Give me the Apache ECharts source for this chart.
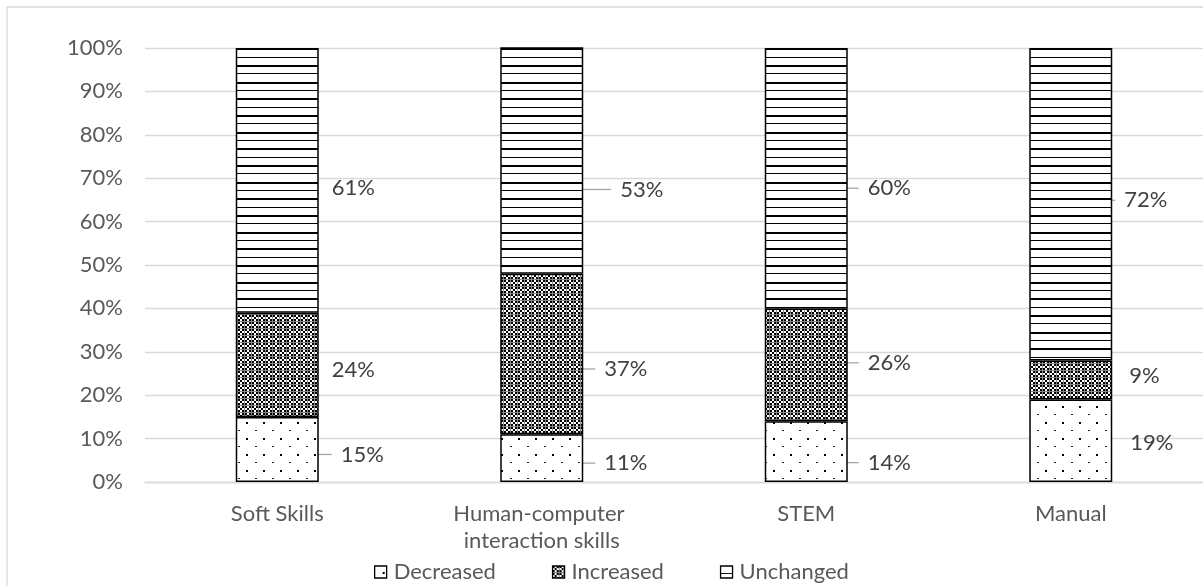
<!DOCTYPE html>
<html>
<head>
<meta charset="utf-8">
<script src="https://cdn.jsdelivr.net/npm/echarts@6/dist/echarts.min.js"></script>
<style>
  html, body { margin: 0; padding: 0; background: #fff; }
  #chart { width: 1203px; height: 586px; }
</style>
</head>
<body>
<div id="chart"></div>
<script>
// Skill groups on the category axis
const categories = ['Soft Skills', 'Human-computer interaction skills', 'STEM', 'Manual'];
// Share of responses (%) in each group
const decreased = [15, 11, 14, 19];
const increased = [24, 37, 26, 9];
const unchanged = [61, 53, 60, 72];
const seriesNames = ['Decreased', 'Increased', 'Unchanged'];

// Label nudges [dx, dy] from the default right-hand spot, per series and category
const labelNudge = [
  [[8, 5], [7, 5], [6, 11], [4, 2]],
  [[-1, 5], [7, 15], [6, -2], [3, -4]],
  [[-1, 8], [23, 29], [6, 10], [-2, -4]]
];
// Which labels get a leader line
const leaderShown = [
  [true, true, true, false],
  [false, true, true, false],
  [false, true, true, true]
];

const FONT = 'Lato';
const FONT_SIZE = 22;
const AXIS_TEXT = '#595959';
const LABEL_TEXT = '#404040';
const GRID_GRAY = '#d9d9d9';

// Small repeating tiles used as monochrome fill patterns
function tile(w, h, paint) {
  const c = document.createElement('canvas');
  c.width = w; c.height = h;
  const g = c.getContext('2d');
  g.fillStyle = '#fff';
  g.fillRect(0, 0, w, h);
  paint(g);
  return { image: c, repeat: 'repeat' };
}

// Sparse staggered dots
const dotFill = tile(17, 16, g => {
  g.fillStyle = '#000';
  g.fillRect(8, 6, 2, 2);
  g.fillStyle = '#222';
  g.fillRect(0, 14, 2, 1);
});

// Fine checkerboard with grey seams
const checkFill = tile(7, 7, g => {
  for (let y = 0; y < 7; y++) {
    for (let x = 0; x < 7; x++) {
      if (x === 6 || y === 6) {
        g.fillStyle = '#8a8a8a';
        g.fillRect(x, y, 1, 1);
      } else if (((x >> 1) + (y >> 1)) % 2 === 0) {
        g.fillStyle = '#000';
        g.fillRect(x, y, 1, 1);
      }
    }
  }
});

// Horizontal rules, alternating thin and thick
const lineFill = tile(4, 50, g => {
  g.fillStyle = '#000';
  [7, 23, 40].forEach(y => g.fillRect(0, y, 4, 1));
  [15, 32, 48].forEach(y => g.fillRect(0, y, 4, 2));
});

const fills = [dotFill, checkFill, lineFill];
const values = [decreased, increased, unchanged];

const series = seriesNames.map((name, si) => ({
  name: name,
  type: 'bar',
  stack: 'share',
  barWidth: 83,
  clip: true,
  itemStyle: {
    color: fills[si],
    borderColor: '#000',
    borderWidth: 1.5
  },
  label: {
    show: true,
    position: 'right',
    distance: 5,
    formatter: '{c}%',
    color: LABEL_TEXT,
    fontFamily: FONT,
    fontSize: FONT_SIZE,
    padding: [0, 0, 0, 9],
    backgroundColor: 'rgba(255,255,255,0)'
  },
  labelLine: {
    show: false,
    length2: 0,
    lineStyle: { color: '#a6a6a6', width: 1.3 }
  },
  labelLayout: function (p) {
    const n = labelNudge[p.seriesIndex][p.dataIndex];
    return { dx: n[0], dy: n[1] };
  },
  emphasis: { disabled: true },
  data: values[si].map((v, ci) => ({
    value: v,
    labelLine: { show: leaderShown[si][ci] }
  }))
}));

const chart = echarts.init(document.getElementById('chart'), null, { renderer: 'canvas' });
chart.setOption({
  animation: false,
  backgroundColor: '#fff',
  textStyle: { fontFamily: FONT },
  graphic: [{
    type: 'rect',
    silent: true,
    shape: { x: 7, y: 7, width: 1300, height: 700 },
    style: { fill: 'none', stroke: GRID_GRAY, lineWidth: 1.3 }
  }],
  grid: { left: 145, right: -8, top: 48, bottom: 104, containLabel: false },
  legend: {
    data: seriesNames,
    left: 374,
    top: 561,
    padding: 0,
    icon: 'rect',
    itemWidth: 12,
    itemHeight: 12,
    itemGap: 56,
    itemStyle: { borderColor: '#000', borderWidth: 1.3 },
    textStyle: { color: AXIS_TEXT, fontFamily: FONT, fontSize: FONT_SIZE, padding: [0, 0, 0, 2] },
    selectedMode: false
  },
  xAxis: {
    type: 'category',
    data: categories,
    axisLine: { show: true, lineStyle: { color: GRID_GRAY, width: 1.3 } },
    axisTick: { show: false },
    axisLabel: {
      color: AXIS_TEXT,
      fontFamily: FONT,
      fontSize: FONT_SIZE,
      margin: 18,
      lineHeight: 27,
      width: 240,
      overflow: 'break',
      interval: 0
    }
  },
  yAxis: {
    type: 'value',
    min: 0,
    max: 100,
    interval: 10,
    axisLine: { show: false },
    axisTick: { show: false },
    splitLine: { lineStyle: { color: GRID_GRAY, width: 1.3 } },
    axisLabel: {
      formatter: '{value}%',
      color: AXIS_TEXT,
      fontFamily: FONT,
      fontSize: FONT_SIZE,
      margin: 22
    }
  },
  series: series
});
</script>
</body>
</html>
